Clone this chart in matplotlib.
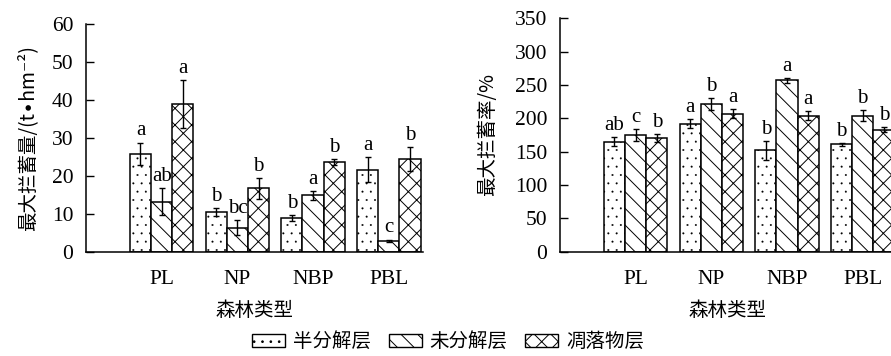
import numpy as np
import matplotlib
matplotlib.use("Agg")
import matplotlib.pyplot as plt
from matplotlib.patches import Patch

plt.rcParams['font.family'] = ['Liberation Serif', 'Noto Sans CJK SC', 'DejaVu Sans']
plt.rcParams['hatch.linewidth'] = 0.7

# data
forests = ['PL', 'NP', 'NBP', 'PBL']
layers = ['半分解层', '未分解层', '凋落物层']
hatches = ['..', '\\\\', 'xx']
hatch_lw = [0.2, 0.7, 0.7]

amount_semi = [25.8, 10.4, 8.8, 21.6]
amount_semi_err = [3.0, 1.0, 0.8, 3.3]
amount_un = [13.2, 6.3, 14.9, 2.9]
amount_un_err = [3.6, 2.0, 1.2, 0.3]
amount_litter = [39.0, 16.7, 23.6, 24.5]
amount_litter_err = [6.4, 2.7, 0.8, 3.1]
amount_letters = [['a', 'b', 'b', 'a'],
                  ['ab', 'bc', 'a', 'c'],
                  ['a', 'b', 'b', 'b']]

rate_semi = [165, 192, 152, 161]
rate_semi_err = [7, 7, 14, 2]
rate_un = [175, 222, 257, 204]
rate_un_err = [9, 9, 3.5, 8]
rate_litter = [170, 207, 204, 183]
rate_litter_err = [6, 7, 7, 4]
rate_letters = [['ab', 'a', 'b', 'b'],
                ['c', 'b', 'a', 'b'],
                ['b', 'a', 'a', 'b']]

cjk = ['Noto Sans CJK SC', 'DejaVu Sans']

fig = plt.figure(figsize=(8.91, 3.56), dpi=100)
ax1 = fig.add_axes([0.0965, 0.293, 0.378, 0.6387])
ax2 = fig.add_axes([0.6285, 0.293, 0.3754, 0.6556])

w = 0.28
x = np.arange(len(forests))


def draw(ax, series, errs, letters, ymax, step, xmax):
    for i, (vals, err) in enumerate(zip(series, errs)):
        pos = x + (i - 1) * w
        bars = ax.bar(pos, vals, width=w, color='white', edgecolor='black',
                      linewidth=1.1, hatch=hatches[i], zorder=2)
        for b in bars:
            b.set_hatch_linewidth(hatch_lw[i])
        ax.errorbar(pos, vals, yerr=err, fmt='none', ecolor='black',
                    elinewidth=1.0, capsize=2.5, capthick=1.0, zorder=3)
        for p, v, e, t in zip(pos, vals, err, letters[i]):
            ax.annotate(t, (p, v + e), xytext=(0, 1.5), textcoords='offset points',
                        ha='center', va='bottom', fontsize=15)
    ax.set_xlim(-1.0, xmax)
    ax.set_ylim(0, ymax)
    ax.set_yticks(np.arange(0, ymax + 1, step))
    ax.set_xticks(x)
    ax.set_xticklabels(forests)
    ax.spines['top'].set_visible(False)
    ax.spines['right'].set_visible(False)
    ax.spines['left'].set_linewidth(1.1)
    ax.spines['bottom'].set_linewidth(1.1)
    ax.tick_params(axis='y', direction='in', length=6, width=1.0, pad=9, labelsize=15.5)
    ax.tick_params(axis='x', length=0, pad=13, labelsize=15.5)
    ax.set_xlabel('森林类型', family=cjk, fontsize=14, labelpad=8)


draw(ax1, [amount_semi, amount_un, amount_litter],
     [amount_semi_err, amount_un_err, amount_litter_err],
     amount_letters, 60, 10, 3.45)
ax1.set_ylabel('最大拦蓄量/(t∙hm⁻²)', family=cjk, fontsize=14, labelpad=10)

draw(ax2, [rate_semi, rate_un, rate_litter],
     [rate_semi_err, rate_un_err, rate_litter_err],
     rate_letters, 350, 50, 3.42)
ax2.set_ylabel('最大拦蓄率/%', family=cjk, fontsize=14, labelpad=12)

handles = []
for h, lw in zip(hatches, hatch_lw):
    p = Patch(facecolor='white', edgecolor='black', hatch=h, linewidth=1.0)
    p.set_hatch_linewidth(lw)
    handles.append(p)
fig.legend(handles, layers, loc='center', bbox_to_anchor=(0.503, 0.04),
           ncol=3, frameon=False, prop={'family': cjk, 'size': 14},
           handlelength=1.7, handleheight=0.65, handletextpad=0.4,
           columnspacing=0.9)

fig.savefig('out.png', dpi=100)
